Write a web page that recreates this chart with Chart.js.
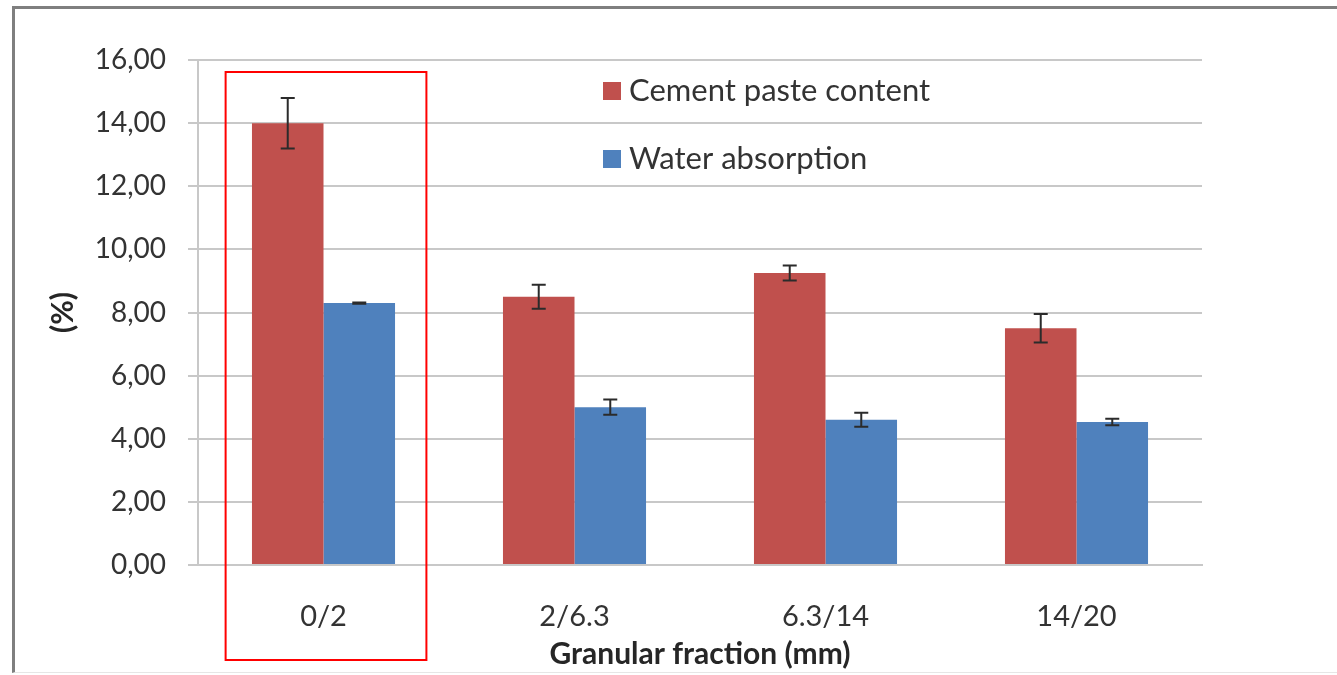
<!DOCTYPE html>
<html>
<head>
<meta charset="utf-8">
<script src="https://cdn.jsdelivr.net/npm/chart.js@4"></script>
<style>
  html, body { margin: 0; padding: 0; background: #fff; }
  #wrap { position: absolute; left: 0; top: 0; width: 1337px; height: 675px; }
  #frame { position: absolute; left: 12px; top: 6px; right: 0; bottom: 2px;
           border-left: 3px solid #7f7f7f; border-top: 3px solid #7f7f7f; border-bottom: 1px solid #e6e6e6; }
</style>
</head>
<body>
<div id="wrap">
  <div id="frame"></div>
  <canvas id="barChart" width="1337" height="675"></canvas>
</div>
<script>
const categories = ['0/2', '2/6.3', '6.3/14', '14/20'];
const cementPaste = [14.0, 8.5, 9.25, 7.5];
const cementPasteErr = [0.8, 0.38, 0.24, 0.45];
const waterAbsorption = [8.3, 5.0, 4.6, 4.53];
const waterAbsorptionErr = [0.02, 0.24, 0.22, 0.1];
const yTicks = [0, 2, 4, 6, 8, 10, 12, 14, 16];

const fontFamily = 'Lato, "Open Sans", sans-serif';
const textColor = '#333333';

// error bars drawn from the dataset values through the y scale
const errorBars = {
    id: 'errorBars',
    afterDatasetsDraw(chart) {
        const ctx = chart.ctx;
        const y = chart.scales.y;
        chart.data.datasets.forEach((ds, i) => {
            const meta = chart.getDatasetMeta(i);
            meta.data.forEach((bar, j) => {
                const v = ds.data[j], e = ds.errors[j];
                const top = y.getPixelForValue(v + e);
                const bot = y.getPixelForValue(v - e);
                ctx.save();
                ctx.strokeStyle = '#2b2b2b';
                ctx.lineWidth = 2;
                ctx.beginPath();
                ctx.moveTo(bar.x, top); ctx.lineTo(bar.x, bot);
                ctx.moveTo(bar.x - 7, top); ctx.lineTo(bar.x + 7, top);
                ctx.moveTo(bar.x - 7, bot); ctx.lineTo(bar.x + 7, bot);
                ctx.stroke();
                ctx.restore();
            });
        });
    }
};

// legend inside the plot, stacked vertically
const innerLegend = {
    id: 'innerLegend',
    afterDraw(chart) {
        const ctx = chart.ctx;
        const area = chart.chartArea;
        const x0 = area.left + 405;
        const rows = [91, 159];
        ctx.save();
        ctx.font = '31px ' + fontFamily;
        ctx.textBaseline = 'middle';
        chart.data.datasets.forEach((ds, i) => {
            const yc = rows[i];
            ctx.fillStyle = ds.backgroundColor;
            ctx.fillRect(x0, yc - 9, 18, 18);
            ctx.fillStyle = textColor;
            ctx.fillText(ds.label, x0 + 26, yc);
        });
        ctx.restore();
    }
};

// red highlight box around the first category
const highlight = {
    id: 'highlight',
    afterDraw(chart) {
        const x = chart.scales.x;
        const ctx = chart.ctx;
        const cw = (x.right - x.left) / categories.length;
        const cx = x.getPixelForValue(0);
        ctx.save();
        ctx.strokeStyle = '#ff0000';
        ctx.lineWidth = 2;
        ctx.strokeRect(cx - cw * 0.39, chart.chartArea.top + 12, cw * 0.8, 588);
        ctx.restore();
    }
};

const ctx = document.getElementById('barChart').getContext('2d');
new Chart(ctx, {
    type: 'bar',
    data: {
        labels: categories,
        datasets: [{
            label: 'Cement paste content',
            data: cementPaste,
            errors: cementPasteErr,
            backgroundColor: '#c0504d',
            borderWidth: 0
        }, {
            label: 'Water absorption',
            data: waterAbsorption,
            errors: waterAbsorptionErr,
            backgroundColor: '#4f81bd',
            borderWidth: 0
        }]
    },
    options: {
        responsive: false,
        animation: false,
        events: [],
        layout: { padding: { left: 0, top: 60, right: 135, bottom: 0 } },
        datasets: { bar: { categoryPercentage: 0.57, barPercentage: 1 } },
        plugins: {
            legend: { display: false },
            tooltip: { enabled: false }
        },
        scales: {
            x: {
                grid: { display: false },
                border: { display: true, color: '#c8c8c8', width: 2 },
                ticks: { color: textColor, font: { family: fontFamily, size: 29 }, padding: 26 },
                title: {
                    display: true, text: 'Granular fraction (mm)', color: '#262626',
                    font: { family: fontFamily, size: 30, weight: 'bold' },
                    padding: { top: 0, bottom: 3 }
                },
                afterFit(scale) { scale.height = 110; }
            },
            y: {
                min: 0, max: 16,
                afterBuildTicks(scale) { scale.ticks = yTicks.map(v => ({ value: v })); },
                grid: { color: '#c8c8c8', lineWidth: 2, tickLength: 10 },
                border: { display: true, color: '#c8c8c8', width: 2 },
                ticks: {
                    color: textColor, padding: 22,
                    font: { family: fontFamily, size: 28 },
                    callback: v => v.toFixed(2).replace('.', ',')
                },
                title: {
                    display: true, text: '(%)', color: '#262626',
                    font: { family: fontFamily, size: 30, weight: 'bold' },
                    padding: { top: 45, bottom: 0 }
                },
                afterFit(scale) { scale.width = 198; }
            }
        }
    },
    plugins: [errorBars, innerLegend, highlight]
});
</script>
</body>
</html>
